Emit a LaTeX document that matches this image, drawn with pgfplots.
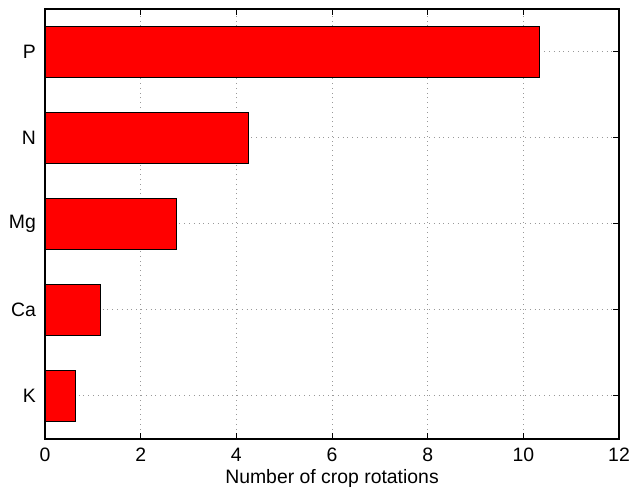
\documentclass[border=0pt]{standalone}
\usepackage{fontspec}
\setmainfont{Liberation Sans}
\usepackage{pgfplots}
\pgfplotsset{compat=1.18}
\begin{document}
\begin{tikzpicture}
\begin{axis}[
  name=ax,
  scale only axis,
  width=287pt, height=215pt,
  xmin=0, xmax=12, ymin=0.5, ymax=5.5,
  xtick={0,2,...,12},
  ytick={1,2,3,4,5},
  yticklabels={K,Ca,Mg,N,P},
  /pgf/number format/assume math mode=true,
  tick label style={font=\fontsize{9.7}{11.5}\selectfont},
  label style={font=\fontsize{9.7}{11.5}\selectfont},
  xlabel={Number of crop rotations},
  xlabel style={yshift=3pt},
  tick align=inside,
  major tick length=3pt,
  xmajorgrids, ymajorgrids,
  major grid style={dotted, gray!80, line width=0.5pt},
  axis line style={line width=0.6pt, black},
  tick style={line width=0.5pt, black},
  xticklabel style={yshift=-1pt},
  yticklabel style={xshift=-1pt},
]
\addplot[xbar, bar width=0.6, fill=red, draw=black, line width=0.5pt]
  coordinates {(0.634,1) (1.165,2) (2.755,3) (4.25,4) (10.33,5)};
\end{axis}
\pgfresetboundingbox
\path (ax.south west) ++(-22.5pt,-25.5pt) coordinate (bl);
\path (ax.north east) ++(5pt,4.5pt) coordinate (tr);
\path (bl) rectangle (tr);
\end{tikzpicture}
\end{document}
